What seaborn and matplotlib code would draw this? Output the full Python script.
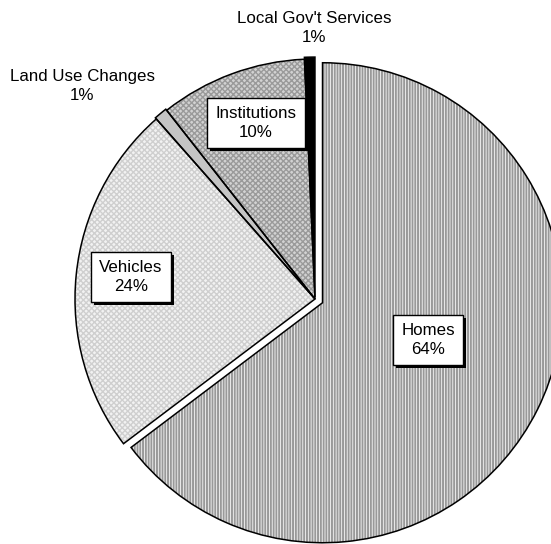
import matplotlib
matplotlib.use("Agg")
import matplotlib.pyplot as plt
from matplotlib.patches import Rectangle
from matplotlib.transforms import IdentityTransform
import seaborn as sns

# ---- data ----
categories = ["Homes", "Vehicles", "Land Use Changes", "Institutions", "Local Gov't Services"]
shares = [64.7, 23.8, 0.9, 9.9, 0.7]
pct_labels = ["64%", "24%", "1%", "10%", "1%"]

# ---- style ----
sns.set_theme(style="white")
plt.rcParams["font.family"] = ["Liberation Sans", "DejaVu Sans"]
plt.rcParams["hatch.linewidth"] = 1.0
plt.rcParams["text.color"] = "black"

face_colors = ["#ffffff", "#f2f2f2", "#c4c4c4", "#d2d2d2", "#000000"]
hatch_colors = ["#999999", "#cfcfcf", "#c4c4c4", "#9a9a9a", "#000000"]
hatches = ["||||||", "xxxxxx", "", "xxxxxx", ""]
hatch_lw = [1.45, 1.0, 1.0, 1.0, 1.0]
explode = [0.035, 0.0, 0.006, 0.0, 0.008]

W, H, DPI = 551, 544, 100
fig = plt.figure(figsize=(W / DPI, H / DPI), dpi=DPI)
ax = fig.add_axes([0, 0, 1, 1])

CX, CY, R = 315, 299, 240  # pixel centre and radius


def px(x, y):
    return (x - CX) / R, (CY - y) / R


# textured fill pass
wedges, _ = ax.pie(shares, explode=explode, startangle=90, counterclock=False,
                   colors=face_colors, radius=1.0,
                   wedgeprops=dict(linewidth=0))
for w, hc, h, hl in zip(wedges, hatch_colors, hatches, hatch_lw):
    if h:
        w.set_hatch(h)
        w.set_edgecolor(hc)
        w.set_linewidth(0)
        if hasattr(w, "set_hatch_linewidth"):
            w.set_hatch_linewidth(hl)

# outline pass
ax.pie(shares, explode=explode, startangle=90, counterclock=False, radius=1.0,
       wedgeprops=dict(fill=False, edgecolor="black", linewidth=1.1))

ax.set_xlim((0 - CX) / R, (W - CX) / R)
ax.set_ylim((CY - H) / R, (CY - 0) / R)
ax.set_aspect("auto")
ax.axis("off")

fs = 12.2
boxed_texts = []


def boxed(label, x, y):
    xd, yd = px(x, y)
    t = ax.text(xd, yd, label, ha="center", va="center", fontsize=fs,
                color="black", linespacing=1.3, zorder=5,
                bbox=dict(boxstyle="square,pad=0.5", linewidth=1.0,
                          facecolor="white", edgecolor="black"))
    boxed_texts.append(t)


boxed(f"{categories[0]}\n{pct_labels[0]}", 428, 340)
boxed(f"{categories[1]}\n{pct_labels[1]}", 131, 277)
boxed(f"{categories[3]}\n{pct_labels[3]}", 256, 123)

x, y = px(82, 86)
ax.text(x, y, f"{categories[2]}\n{pct_labels[2]}", ha="center", va="center",
        fontsize=fs, linespacing=1.3, color="black")
x, y = px(314, 28)
ax.text(x, y, f"{categories[4]}\n{pct_labels[4]}", ha="center", va="center",
        fontsize=fs, linespacing=1.3, color="black")

# drop shadows behind the label boxes
fig.canvas.draw()
for t in boxed_texts:
    ext = t.get_bbox_patch().get_window_extent()
    sh = Rectangle((ext.x0 + 3, ext.y0 - 3), ext.width, ext.height,
                   transform=IdentityTransform(), facecolor="black",
                   edgecolor="none", zorder=4, clip_on=False)
    ax.add_artist(sh)

fig.savefig("out.png", dpi=DPI)
